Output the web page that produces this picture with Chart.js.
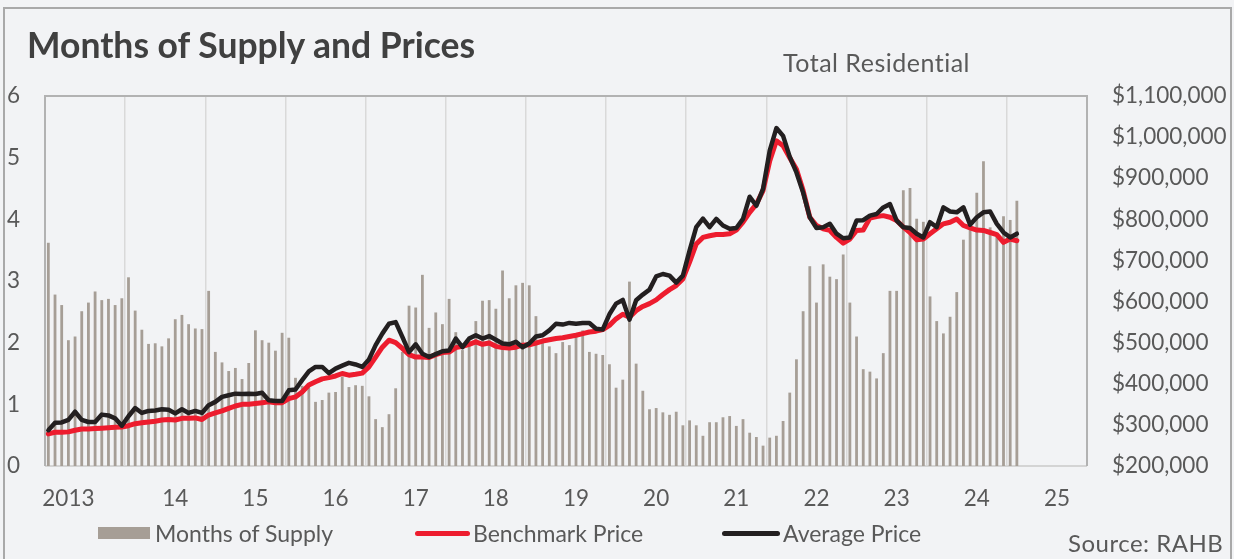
<!DOCTYPE html>
<html><head><meta charset="utf-8">
<script src="https://cdn.jsdelivr.net/npm/chart.js@4.4.1/dist/chart.umd.min.js"></script>
<style>
html,body{margin:0;padding:0;background:#f2f3f5;}
#wrap{position:relative;width:1234px;height:559px;overflow:hidden;background:#f2f3f5;font-family:Lato,"Open Sans",sans-serif;color:#595959;}
#frame{position:absolute;left:3px;top:7px;width:1229px;height:570px;border:2px solid #a9a9a9;box-sizing:border-box;}
canvas{position:absolute;left:0;top:0;}
.t{position:absolute;white-space:nowrap;line-height:26px;font-size:23px;}
.sw{position:absolute;}
</style></head><body>
<div id="wrap">
<div id="frame"></div>
<canvas id="c" width="1234" height="559"></canvas>
<div class="t" style="left:27px;top:25px;font-size:35.5px;line-height:40px;font-weight:700;color:#404040;">Months of Supply and Prices</div>
<div class="t" style="left:783px;top:48px;font-size:25px;line-height:28px;letter-spacing:0.5px;">Total Residential</div>
<div class="sw" style="left:98px;top:527px;width:52px;height:12px;background:#a69e96;"></div>
<div class="t" style="left:155px;top:520px;">Months of Supply</div>
<div class="sw" style="left:415px;top:531px;width:55px;height:5px;border-radius:3px;background:#ed1c2e;"></div>
<div class="t" style="left:473px;top:520px;">Benchmark Price</div>
<div class="sw" style="left:722px;top:531px;width:58px;height:5px;border-radius:3px;background:#231f20;"></div>
<div class="t" style="left:783px;top:520px;">Average Price</div>
<div class="t" style="left:1068px;top:530px;font-size:24px;letter-spacing:0.5px;">Source: RAHB</div>
</div>
<script>
// ---- data (Jan 2013 onward, monthly) ----
const years = [2013,2014,2015,2016,2017,2018,2019,2020,2021,2022,2023,2024,2025];
const monthNames = ['Jan','Feb','Mar','Apr','May','Jun','Jul','Aug','Sep','Oct','Nov','Dec'];
const yearTickLabels = ['2013','14','15','16','17','18','19','20','21','22','23','24','25'];

const monthsOfSupply = [
3.62,2.78,2.61,2.04,2.10,2.51,2.65,2.83,2.69,2.71,2.61,2.72,
3.06,2.52,2.21,1.98,1.99,1.94,2.07,2.38,2.45,2.30,2.23,2.22,
2.84,1.85,1.68,1.54,1.59,1.41,1.67,2.20,2.04,2.00,1.87,2.16,
2.08,1.43,1.30,1.27,1.04,1.07,1.19,1.20,1.45,1.28,1.31,1.30,
1.13,0.76,0.63,0.84,1.26,1.85,2.60,2.57,3.10,2.24,2.49,2.30,
2.71,2.17,1.88,1.95,2.35,2.68,2.69,2.55,3.17,2.72,2.93,2.97,
2.93,2.43,2.00,1.94,1.83,2.01,1.96,2.09,2.20,1.85,1.82,1.80,
1.65,1.27,1.40,2.99,1.66,1.22,0.92,0.94,0.87,0.83,0.88,0.66,
0.74,0.66,0.49,0.71,0.71,0.79,0.81,0.65,0.76,0.54,0.47,0.33,
0.46,0.49,0.73,1.19,1.73,2.51,3.24,2.65,3.27,3.07,3.03,3.43,
2.65,2.10,1.57,1.53,1.42,1.83,2.84,2.84,4.47,4.51,4.01,3.96,
2.75,2.35,2.15,2.42,2.82,3.67,3.85,4.43,4.94,3.87,3.75,4.05,
3.99,4.30];

const benchmarkPrice = [
278000,282000,282000,283000,287000,290000,290000,291000,292000,293000,294000,295000,
298000,303000,305000,307000,309000,312000,313000,312000,316000,316000,317000,313000,
324000,329000,334000,340000,346000,350000,350000,352000,354000,356000,354000,354000,
364000,368000,380000,397000,405000,412000,415000,419000,425000,421000,423000,426000,
441000,465000,489000,506000,500000,486000,471000,465000,465000,464000,471000,476000,
477000,488000,491000,496000,502000,496000,499000,491000,488000,487000,489000,494000,
495000,499000,504000,507000,510000,512000,515000,518000,522000,526000,528000,532000,
542000,558000,569000,562000,578000,588000,595000,604000,617000,629000,639000,655000,
696000,740000,756000,760000,763000,763000,765000,774000,793000,817000,837000,870000,
942000,991000,979000,950000,922000,870000,805000,785000,777000,773000,756000,742000,
752000,773000,774000,803000,807000,809000,805000,797000,781000,768000,750000,752000,
765000,777000,789000,793000,801000,785000,779000,774000,773000,768000,763000,744000,
752000,748000];

const averagePrice = [
287000,305000,306000,312000,332000,312000,307000,307000,325000,323000,316000,298000,
321000,341000,329000,334000,335000,338000,337000,328000,338000,329000,334000,329000,
348000,356000,368000,372000,376000,375000,376000,375000,378000,360000,358000,358000,
384000,386000,409000,430000,441000,441000,426000,437000,444000,451000,447000,441000,
459000,494000,522000,546000,550000,514000,477000,496000,473000,465000,472000,479000,
481000,510000,489000,510000,518000,510000,516000,507000,498000,496000,502000,489000,
498000,515000,518000,530000,546000,544000,548000,546000,548000,548000,534000,532000,
569000,595000,604000,556000,603000,617000,629000,661000,667000,663000,646000,663000,
724000,781000,802000,781000,801000,785000,777000,779000,801000,855000,833000,874000,
967000,1022000,1003000,952000,914000,865000,805000,779000,781000,789000,765000,754000,
756000,797000,798000,809000,813000,829000,837000,797000,781000,779000,765000,756000,
793000,781000,829000,819000,817000,829000,787000,805000,817000,819000,789000,768000,
756000,765000];

const categories = years.flatMap(y => monthNames.map(m => m + ' ' + y));

function yearTickText(i){
  if (i === 3) return yearTickLabels[0];
  if (i >= 19 && (i - 19) % 12 === 0) return yearTickLabels[(i - 19) / 12 + 1] || '';
  return '';
}

const plotBorder = {
  id: 'plotBorder',
  beforeDatasetsDraw(chart){
    const {ctx, chartArea:a} = chart;
    ctx.save();
    ctx.lineWidth = 2;
    ctx.strokeStyle = '#d4d4d4';
    ctx.beginPath(); ctx.moveTo(a.left, a.bottom); ctx.lineTo(a.right, a.bottom); ctx.stroke();
    ctx.strokeStyle = '#b2b2b2';
    ctx.beginPath();
    ctx.moveTo(a.left, a.bottom); ctx.lineTo(a.left, a.top); ctx.lineTo(a.right, a.top); ctx.lineTo(a.right, a.bottom);
    ctx.stroke();
    ctx.restore();
  }
};

const tickFont = {family: 'Lato, "Open Sans", sans-serif', size: 22.5};

new Chart(document.getElementById('c'), {
  data: {
    labels: categories,
    datasets: [
      {type:'line', label:'Average Price', data: averagePrice, yAxisID:'y1', borderColor:'#231f20', borderWidth:4.5, pointRadius:0, tension:0, borderJoinStyle:'round', borderCapStyle:'round', order:1},
      {type:'line', label:'Benchmark Price', data: benchmarkPrice, yAxisID:'y1', borderColor:'#ed1c2e', borderWidth:5, pointRadius:0, tension:0, borderJoinStyle:'round', borderCapStyle:'round', order:2},
      {type:'bar', label:'Months of Supply', data: monthsOfSupply, yAxisID:'y', backgroundColor:'#a69e96', categoryPercentage:1, barPercentage:0.42, order:3}
    ]
  },
  options: {
    responsive: false,
    animation: false,
    layout: {padding: {top: 96, left: 0, right: 0, bottom: 0}},
    plugins: {legend:{display:false}, tooltip:{enabled:false}},
    scales: {
      x: {
        type:'category', offset:true,
        border:{display:false},
        grid:{offset:true, drawTicks:false, lineWidth:1.5, color: ctx => (ctx.index % 12 === 0 && ctx.index > 0) ? '#d9d9d9' : 'rgba(0,0,0,0)'},
        ticks:{autoSkip:false, maxRotation:0, minRotation:0, padding:19, color:'#595959', font:tickFont, callback:(v,i) => yearTickText(i)},
        afterFit(s){ s.height = 93; }
      },
      y: {
        position:'left', min:0, max:6,
        border:{display:false}, grid:{display:false, drawTicks:false},
        ticks:{stepSize:1, padding:25, color:'#595959', font:tickFont},
        afterFit(s){ s.width = 45; }
      },
      y1: {
        position:'right', min:200000, max:1100000,
        border:{display:false}, grid:{display:false, drawTicks:false},
        ticks:{stepSize:100000, padding:25, color:'#595959', font:tickFont, callback: v => '$' + Number(v).toLocaleString('en-US')},
        afterFit(s){ s.width = 1234 - 1087; }
      }
    }
  },
  plugins: [plotBorder]
});
</script>
</body></html>
